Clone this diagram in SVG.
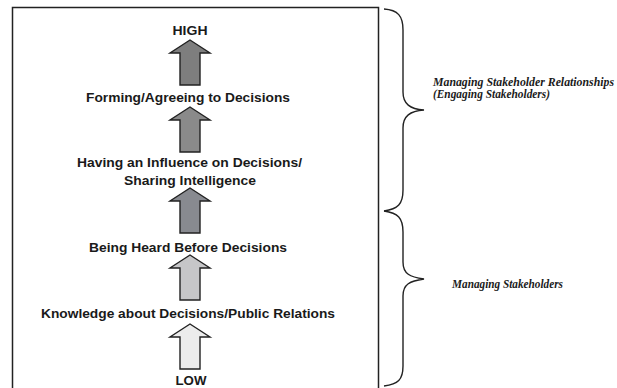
<svg xmlns="http://www.w3.org/2000/svg" width="617" height="388" viewBox="0 0 617 388">
<defs>
<style>
.lbl{font-family:"Liberation Sans",Arial,sans-serif;font-weight:bold;font-size:12.5px;fill:#1a1a1a;text-anchor:middle}
.side{font-family:"Liberation Serif","Times New Roman",serif;font-weight:bold;font-style:italic;font-size:11.5px;fill:#1a1a1a}
.arr{stroke:#222;stroke-width:1.4;stroke-linejoin:miter}
.brace{fill:none;stroke:#222;stroke-width:1.4}
</style>
<path id="up" d="M0,0 L20,13 L10,13 L10,45 L-10,45 L-10,13 L-20,13 Z"/>
</defs>
<rect width="617" height="388" fill="#ffffff"/>
<rect x="12.5" y="7.5" width="366" height="390" fill="none" stroke="#222" stroke-width="1.5"/>
<g id="connectors">
<use href="#up" x="190" y="40" class="arr" fill="#7e7e7e"/>
<use href="#up" x="190" y="107" class="arr" fill="#8a8a8a"/>
<use href="#up" x="190" y="188" class="arr" fill="#888a90"/>
<use href="#up" x="190" y="255" class="arr" fill="#c6c6c8"/>
<use href="#up" x="190" y="324" class="arr" fill="#ececec"/>
</g>
<g id="high"><text class="lbl" x="190" y="35" textLength="35" lengthAdjust="spacingAndGlyphs">HIGH</text></g>
<g id="forming"><text class="lbl" x="188" y="102" textLength="204" lengthAdjust="spacingAndGlyphs">Forming/Agreeing to Decisions</text></g>
<g id="influence"><text class="lbl" x="189.5" y="167" textLength="225" lengthAdjust="spacingAndGlyphs">Having an Influence on Decisions/</text><text class="lbl" x="190" y="185" textLength="132" lengthAdjust="spacingAndGlyphs">Sharing Intelligence</text></g>
<g id="heard"><text class="lbl" x="188" y="252" textLength="198" lengthAdjust="spacingAndGlyphs">Being Heard Before Decisions</text></g>
<g id="knowledge"><text class="lbl" x="188" y="318" textLength="294" lengthAdjust="spacingAndGlyphs">Knowledge about Decisions/Public Relations</text></g>
<g id="low"><text class="lbl" x="191" y="385" textLength="31" lengthAdjust="spacingAndGlyphs">LOW</text></g>
<g id="brace-upper">
<path class="brace" d="M384,9 C398,10 403,16 403,30 L403,92 C403,104 410,109 424,110 C410,111 403,116 403,128 L403,190 C403,204 398,209 384,211"/>
<text class="side" x="433" y="86" textLength="181" lengthAdjust="spacingAndGlyphs">Managing Stakeholder Relationships</text>
<text class="side" x="433" y="98" textLength="117" lengthAdjust="spacingAndGlyphs">(Engaging Stakeholders)</text>
</g>
<g id="brace-lower">
<path class="brace" d="M384,211 C398,213 403,218 403,232 L403,262 C403,274 410,277 424,279 C410,281 403,284 403,296 L403,366 C403,380 398,384 384,386"/>
<text class="side" x="452" y="288" textLength="111" lengthAdjust="spacingAndGlyphs">Managing Stakeholders</text>
</g>
</svg>
